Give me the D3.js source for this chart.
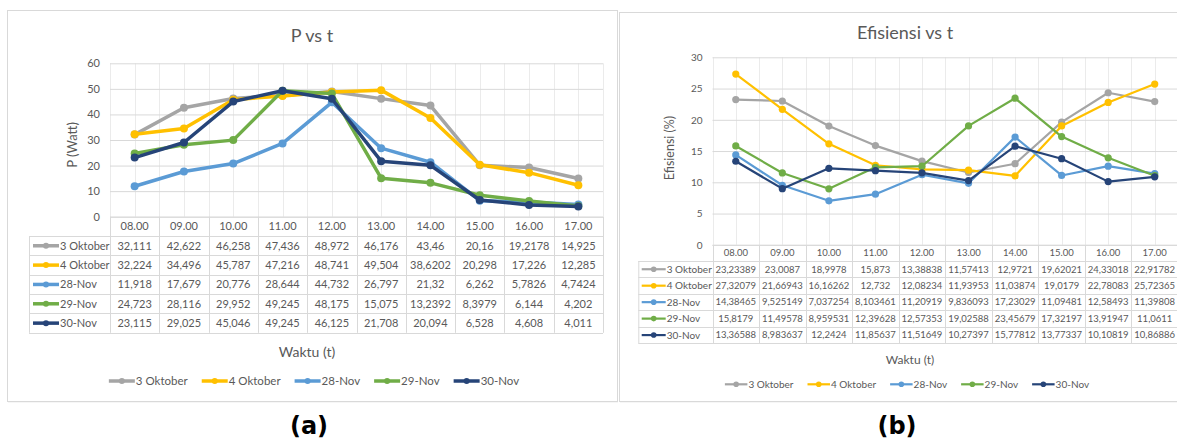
<!DOCTYPE html>
<html>
<head>
<meta charset="utf-8">
<script src="https://cdn.jsdelivr.net/npm/d3@7"></script>
<style>
  html, body { margin: 0; padding: 0; background: #fff; }
  svg { display: block; font-family: Lato, "Open Sans", sans-serif; }
</style>
</head>
<body>
<svg id="chart" width="1177" height="439"></svg>
<script>
// ---- data ----
const hours = ["08.00", "09.00", "10.00", "11.00", "12.00", "13.00", "14.00", "15.00", "16.00", "17.00"];
const seriesNames = ["3 Oktober", "4 Oktober", "28-Nov", "29-Nov", "30-Nov"];
const seriesColors = ["#A5A5A5", "#FFC000", "#5B9BD5", "#70AD47", "#264478"];

// output power P (Watt)
const power3Oktober = [32.111, 42.622, 46.258, 47.436, 48.972, 46.176, 43.46, 20.16, 19.2178, 14.925];
const power4Oktober = [32.224, 34.496, 45.787, 47.216, 48.741, 49.504, 38.6202, 20.298, 17.226, 12.285];
const power28Nov = [11.918, 17.679, 20.776, 28.644, 44.732, 26.797, 21.32, 6.262, 5.7826, 4.7424];
const power29Nov = [24.723, 28.116, 29.952, 49.245, 48.175, 15.075, 13.2392, 8.3979, 6.144, 4.202];
const power30Nov = [23.115, 29.025, 45.046, 49.245, 46.125, 21.708, 20.094, 6.528, 4.608, 4.011];

// efficiency (%)
const eff3Oktober = [23.23389, 23.0087, 18.9978, 15.873, 13.38838, 11.57413, 12.9721, 19.62021, 24.33018, 22.91782];
const eff4Oktober = [27.32079, 21.66943, 16.16262, 12.732, 12.08234, 11.93953, 11.03874, 19.0179, 22.78083, 25.72365];
const eff28Nov = [14.38465, 9.525149, 7.037254, 8.103461, 11.20919, 9.836093, 17.23029, 11.09481, 12.58493, 11.39808];
const eff29Nov = [15.8179, 11.49578, 8.959531, 12.39628, 12.57353, 19.02588, 23.45679, 17.32197, 13.91947, 11.0611];
const eff30Nov = [13.36588, 8.983637, 12.2424, 11.85637, 11.51649, 10.27397, 15.77812, 13.77337, 10.10819, 10.86886];

const powerTicks = [0, 10, 20, 30, 40, 50, 60];
const effTicks = [0, 5, 10, 15, 20, 25, 30];

const powerSeries = [power3Oktober, power4Oktober, power28Nov, power29Nov, power30Nov];
const effSeries = [eff3Oktober, eff4Oktober, eff28Nov, eff29Nov, eff30Nov];

// ---- drawing ----
const svg = d3.select("#chart");
const textColor = "#595959";
const gridColor = "#D9D9D9";
const fmt = v => String(v).replace(".", ",");

function drawPanel(cfg, values, ticks) {
  const g = svg.append("g");

  // chart frame with a faint shadow
  g.append("rect")
    .attr("x", cfg.frame[0] + 1).attr("y", cfg.frame[1] + 1.5)
    .attr("width", cfg.frame[2]).attr("height", cfg.frame[3])
    .attr("fill", "#EDEDED");
  g.append("rect")
    .attr("x", cfg.frame[0] + 0.5).attr("y", cfg.frame[1] + 0.5)
    .attr("width", cfg.frame[2]).attr("height", cfg.frame[3])
    .attr("fill", "#fff").attr("stroke", gridColor);

  const x = d3.scaleBand().domain(hours).range([cfg.left, cfg.right]);
  const bw = x.bandwidth();
  const y = d3.scaleLinear().domain([0, d3.max(ticks)]).range([cfg.zeroY, cfg.top]);

  // vertical gridlines at category edges and centres
  const vLines = [];
  hours.forEach(h => { vLines.push(x(h)); vLines.push(x(h) + bw / 2); });
  vLines.push(cfg.right);
  g.append("g").selectAll("line").data(vLines).join("line")
    .attr("x1", d => Math.round(d) + 0.5).attr("x2", d => Math.round(d) + 0.5)
    .attr("y1", cfg.top).attr("y2", cfg.zeroY)
    .attr("stroke", "#EBEBEB").attr("stroke-width", 1);

  // value axis with horizontal gridlines
  const yAxis = g.append("g")
    .attr("transform", `translate(${cfg.left},0)`)
    .call(d3.axisLeft(y).tickValues(ticks).tickSize(-(cfg.right - cfg.left)).tickPadding(cfg.tickPad).tickFormat(d3.format("d")));
  yAxis.select(".domain").remove();
  yAxis.selectAll(".tick line").attr("stroke", gridColor);
  yAxis.selectAll(".tick text")
    .attr("fill", textColor).attr("font-size", cfg.tickFont)
    .attr("font-family", "Lato, sans-serif");

  // title
  g.append("text")
    .attr("x", cfg.titleX).attr("y", cfg.titleY)
    .attr("text-anchor", "middle").attr("fill", textColor)
    .attr("font-size", 18).text(cfg.title);

  // y-axis title
  g.append("text")
    .attr("transform", `translate(${cfg.yTitleX},${cfg.yTitleY}) rotate(-90)`)
    .attr("text-anchor", "middle").attr("dy", "0.35em")
    .attr("fill", textColor).attr("font-size", cfg.yTitleFont)
    .text(cfg.yTitle);

  // ---- data table under the plot ----
  const headBottom = cfg.zeroY + cfg.headH;
  const tableBottom = headBottom + cfg.rowH * values.length;
  const tg = g.append("g");
  // horizontal table lines
  tg.append("line")
    .attr("x1", cfg.left).attr("x2", cfg.right)
    .attr("y1", cfg.zeroY + 0.5).attr("y2", cfg.zeroY + 0.5)
    .attr("stroke", gridColor);
  d3.range(values.length + 1).forEach(i => {
    const yy = Math.round(headBottom + i * cfg.rowH) + 0.5;
    tg.append("line")
      .attr("x1", cfg.tableLeft).attr("x2", cfg.right)
      .attr("y1", yy).attr("y2", yy)
      .attr("stroke", gridColor);
  });
  // vertical table lines
  const colEdges = hours.map(h => x(h)).concat([cfg.right]);
  tg.selectAll(".col").data(colEdges).join("line")
    .attr("x1", d => Math.round(d) + 0.5).attr("x2", d => Math.round(d) + 0.5)
    .attr("y1", cfg.zeroY).attr("y2", tableBottom)
    .attr("stroke", gridColor);
  tg.append("line")
    .attr("x1", cfg.tableLeft + 0.5).attr("x2", cfg.tableLeft + 0.5)
    .attr("y1", headBottom).attr("y2", tableBottom)
    .attr("stroke", gridColor);

  // category labels in header row
  tg.selectAll(".hd").data(hours).join("text")
    .attr("x", d => x(d) + bw / 2)
    .attr("y", cfg.zeroY + cfg.headH / 2)
    .attr("dy", "0.35em").attr("text-anchor", "middle")
    .attr("fill", textColor).attr("font-size", cfg.cellFont)
    .text(d => d);

  // rows: legend key, name, values
  values.forEach((vals, si) => {
    const cy = headBottom + cfg.rowH * (si + 0.5);
    tg.append("line")
      .attr("x1", cfg.tableLeft + cfg.keyStart).attr("x2", cfg.tableLeft + cfg.keyStart + cfg.keyLen)
      .attr("y1", cy).attr("y2", cy)
      .attr("stroke", seriesColors[si]).attr("stroke-width", cfg.keyWidth);
    tg.append("circle")
      .attr("cx", cfg.tableLeft + cfg.keyStart + cfg.keyLen / 2).attr("cy", cy)
      .attr("r", cfg.keyR).attr("fill", seriesColors[si]);
    tg.append("text")
      .attr("x", cfg.tableLeft + cfg.keyStart + cfg.keyLen + 1).attr("y", cy)
      .attr("dy", "0.35em").attr("fill", textColor).attr("font-size", cfg.nameFont)
      .text(seriesNames[si]);
    tg.selectAll(null).data(vals).join("text")
      .attr("x", (d, i) => x(hours[i]) + bw / 2).attr("y", cy)
      .attr("dy", "0.35em").attr("text-anchor", "middle")
      .attr("fill", textColor).attr("font-size", cfg.cellFont)
      .text(d => fmt(d));
  });

  // x-axis title
  g.append("text")
    .attr("x", cfg.xTitleX).attr("y", cfg.xTitleY)
    .attr("dy", "0.35em").attr("text-anchor", "middle")
    .attr("fill", textColor).attr("font-size", cfg.xTitleFont)
    .text("Waktu (t)");

  // ---- series lines ----
  const line = d3.line()
    .x((d, i) => x(hours[i]) + bw / 2)
    .y(d => y(d));
  values.forEach((vals, si) => {
    const sg = g.append("g");
    sg.append("path")
      .attr("d", line(vals))
      .attr("fill", "none").attr("stroke", seriesColors[si])
      .attr("stroke-width", cfg.lineWidth)
      .attr("stroke-linejoin", "round").attr("stroke-linecap", "round");
    sg.selectAll("circle").data(vals).join("circle")
      .attr("cx", (d, i) => x(hours[i]) + bw / 2)
      .attr("cy", d => y(d))
      .attr("r", cfg.markerR)
      .attr("fill", seriesColors[si]);
  });

  // ---- legend ----
  const lg = g.append("g");
  let cursor = 0;
  const items = [];
  seriesNames.forEach((name, si) => {
    const it = lg.append("g");
    it.append("line")
      .attr("x1", 0).attr("x2", cfg.legKey)
      .attr("y1", 0).attr("y2", 0)
      .attr("stroke", seriesColors[si]).attr("stroke-width", cfg.keyWidth);
    it.append("circle")
      .attr("cx", cfg.legKey / 2).attr("cy", 0)
      .attr("r", cfg.keyR).attr("fill", seriesColors[si]);
    const t = it.append("text")
      .attr("x", cfg.legKey + 1).attr("y", 0).attr("dy", "0.35em")
      .attr("fill", textColor).attr("font-size", cfg.legFont)
      .text(name);
    const w = cfg.legKey + 1 + t.node().getComputedTextLength();
    items.push({ node: it, offset: cursor });
    cursor += w + cfg.legGap;
  });
  const total = cursor - cfg.legGap;
  const start = cfg.legCenter - total / 2;
  items.forEach(d => d.node.attr("transform", `translate(${start + d.offset},${cfg.legY})`));

  // panel label below the frame
  svg.append("text")
    .attr("x", cfg.labelX).attr("y", 434)
    .attr("text-anchor", "middle")
    .attr("font-family", "'DejaVu Sans', sans-serif")
    .attr("font-weight", "bold").attr("font-size", 24)
    .attr("fill", "#000")
    .text(cfg.label);
}

drawPanel({
  frame: [7, 10, 610, 391],
  left: 110, right: 603, top: 63.3, zeroY: 216.7,
  tickPad: 10, tickFont: 11,
  title: "P vs t", titleX: 312, titleY: 41.5,
  yTitle: "P (Watt)", yTitleX: 72, yTitleY: 145, yTitleFont: 13,
  tableLeft: 29, headH: 19.4, rowH: 19.34,
  cellFont: 11, nameFont: 11,
  keyStart: 4, keyLen: 26, keyWidth: 3.5, keyR: 3,
  xTitleX: 307, xTitleY: 352, xTitleFont: 14,
  lineWidth: 3.5, markerR: 4,
  legKey: 26, legFont: 11.5, legGap: 14, legCenter: 314, legY: 381,
  label: "(a)", labelX: 309
}, powerSeries, powerTicks);

drawPanel({
  frame: [619, 12, 590, 389],
  left: 712.5, right: 1178, top: 57.3, zeroY: 244.8,
  tickPad: 10, tickFont: 10,
  title: "Efisiensi vs t", titleX: 905, titleY: 38.5,
  yTitle: "Efisiensi (%)", yTitleX: 670, yTitleY: 148, yTitleFont: 12.5,
  tableLeft: 638.3, headH: 16.2, rowH: 16.46,
  cellFont: 9.5, nameFont: 10,
  keyStart: 3.4, keyLen: 24, keyWidth: 2.2, keyR: 2.8,
  xTitleX: 910, xTitleY: 359.5, xTitleFont: 12,
  lineWidth: 2.2, markerR: 3.6,
  legKey: 22.5, legFont: 10, legGap: 14, legCenter: 907, legY: 384.3,
  label: "(b)", labelX: 897
}, effSeries, effTicks);
</script>
</body>
</html>
